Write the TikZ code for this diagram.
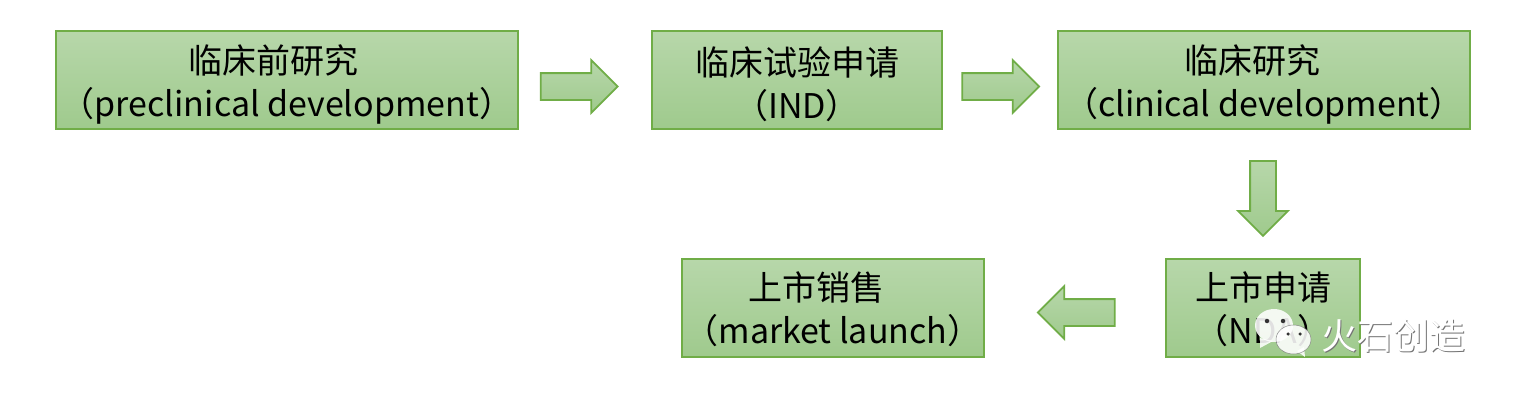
\documentclass[tikz,border=0pt]{standalone}
\usepackage{fontspec}
\setmainfont{Noto Sans CJK SC}
\usetikzlibrary{shapes.arrows, shapes.geometric}
\definecolor{boxline}{HTML}{70AD47}
\definecolor{boxtop}{HTML}{B7D7AA}
\definecolor{boxbottom}{HTML}{9FCA8D}
\tikzset{
    stagebox/.style={draw=boxline, line width=1.8pt, top color=boxtop, bottom color=boxbottom,
        inner sep=0pt, minimum height=98pt},
    stagetext/.style={align=center, font=\fontsize{34}{43}\selectfont, inner sep=0pt, yshift=-4pt},
    blockarrow/.style={single arrow, draw=boxline, line width=1.8pt, top color=boxtop, bottom color=boxbottom,
        single arrow head extend=13pt, inner xsep=0pt, inner ysep=12.5pt, minimum height=77pt},
    bubble/.style={fill=white, fill opacity=0.88, draw=none},
    eyedot/.style={circle, fill=black!80, inner sep=0pt, minimum size=4.5pt},
}
\begin{document}
\begin{tikzpicture}[x=1pt, y=-1pt]
        \useasboundingbox (0,0) rectangle (1516,402);

        % Etapas
        \node[stagebox, minimum width=462pt] (preclinical) at (287,80) {};
        \node[stagebox, minimum width=290pt] (ind) at (797,80) {};
        \node[stagebox, minimum width=412pt] (clinical) at (1264,80) {};
        \node[stagebox, minimum width=194pt] (nda) at (1263,308) {};
        \node[stagebox, minimum width=302pt] (market) at (833,308) {};

        % Textos
        \node[stagetext] (preclinicaltext) at (preclinical) {临床前研究\hspace*{26pt}\\（preclinical development）};
        \node[stagetext] (indtext) at (ind) {临床试验申请\\（IND）};
        \node[stagetext] (clinicaltext) at (clinical) {临床研究\hspace*{24pt}\\（clinical development）};
        \node[stagetext, yshift=2.5pt] (ndatext) at (nda) {上市申请\\（NDA）};
        \node[stagetext, yshift=2.5pt] (markettext) at (market) {上市销售\hspace*{33pt}\\（market launch）};

        % Flechas
        \node[blockarrow] (arrowind) at (572.5,86.5) {};
        \node[blockarrow] (arrowclinical) at (994,86.5) {};
        \node[blockarrow, shape border rotate=270, inner xsep=12pt, inner ysep=0pt, single arrow head extend=12pt, minimum height=75pt] (arrownda) at (1263,192) {};
        \node[blockarrow, shape border rotate=180] (arrowmarket) at (1083,312.5) {};

        % Marca de agua
        \path[bubble] (1260,338) -- (1260,348) -- (1273,341) -- cycle;
        \node[bubble, ellipse, minimum width=38pt, minimum height=33pt, inner sep=0pt] (bubblebig) at (1274,325.5) {};
        \node[eyedot] (eyeA) at (1267,321) {};
        \node[eyedot] (eyeB) at (1283,321) {};
        \path[bubble] (1297,351) -- (1305,357) -- (1304,347) -- cycle;
        \node[bubble, ellipse, draw=black!55, line width=0.5pt, draw opacity=0.8, minimum width=35pt, minimum height=29pt, inner sep=0pt] (bubblesmall) at (1293.5,339.5) {};
        \node[eyedot, minimum size=3.5pt] (eyeC) at (1288,334) {};
        \node[eyedot, minimum size=3.5pt] (eyeD) at (1300,334) {};
        \node[text=black!55, font=\fontsize{36}{36}\selectfont] (markshadow) at (1394,337) {火石创造};
        \node[text=white, font=\fontsize{36}{36}\selectfont] (marktext) at (1393,336) {火石创造};
\end{tikzpicture}
\end{document}
